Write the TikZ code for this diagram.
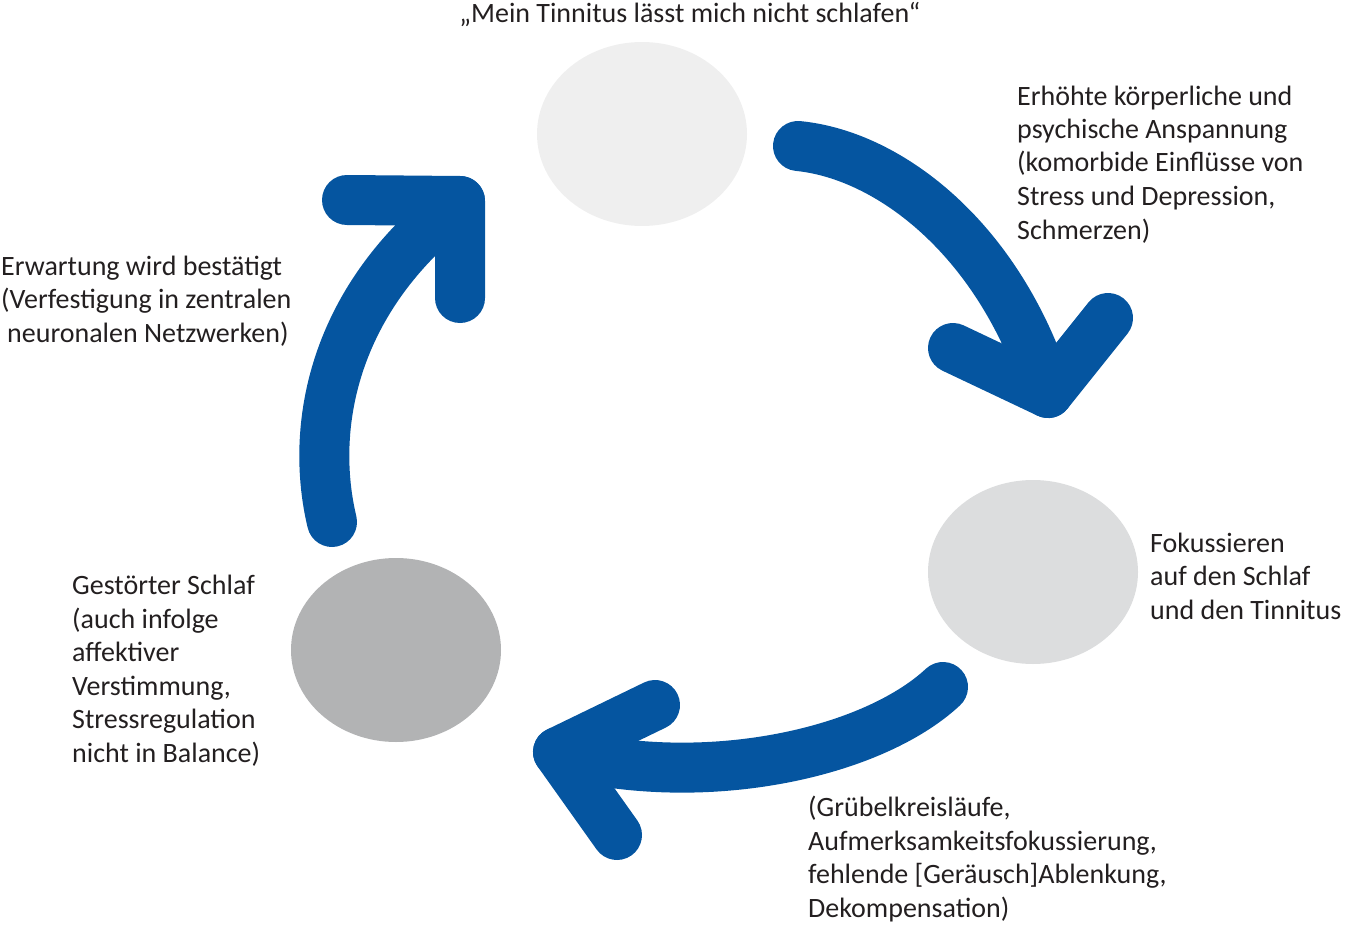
\documentclass[tikz,border=0pt]{standalone}
\usepackage{fontspec}
\setmainfont{Carlito}
\usetikzlibrary{shapes.geometric}
\definecolor{arrowblue}{RGB}{5,85,160}
\definecolor{txtgray}{RGB}{35,31,32}
\definecolor{circA}{RGB}{239,239,239}
\definecolor{circB}{RGB}{220,221,222}
\definecolor{circC}{RGB}{178,179,180}
\tikzset{
  blob/.style={ellipse, draw=none, inner sep=0pt, minimum width=210pt, minimum height=184pt},
  cyclearrow/.style={draw=arrowblue, line width=50pt, line cap=round, line join=round},
  lbl/.style={anchor=base west, align=left, inner sep=0pt, text=txtgray,
    font=\fontsize{28}{33.5}\selectfont},
}
\begin{document}
\begin{tikzpicture}[x=1pt, y=-1pt]
\useasboundingbox (0,0) rectangle (1346,928);
% circles
\node[blob, fill=circA] (top) at (642,134) {};
\node[blob, fill=circB] (right) at (1033,572) {};
\node[blob, fill=circC] (left) at (396,650) {};
% arrow 1
\coordinate (a1s) at (798,146);
\coordinate (a1v) at (1048,393);
\coordinate (a1l) at (953,348);
\coordinate (a1r) at (1108,318);
\draw[cyclearrow] (a1s) .. controls (890,155) and (1000,240) .. (a1v);
\draw[cyclearrow] (a1l) -- (a1v) -- (a1r);
% arrow 2
\coordinate (a2s) at (943,687);
\coordinate (a2v) at (558,752);
\coordinate (a2u) at (655,705);
\coordinate (a2d) at (617,835);
\draw[cyclearrow] (a2s) .. controls (870,755) and (700,790) .. (a2v);
\draw[cyclearrow] (a2u) -- (a2v) -- (a2d);
% arrow 3
\coordinate (a3s) at (332,522);
\coordinate (a3v) at (460,201);
\coordinate (a3l) at (347,200);
\coordinate (a3d) at (460,298);
\draw[cyclearrow] (a3s) .. controls (310,430) and (330,300) .. (a3v);
\draw[cyclearrow] (a3l) -- (a3v) -- (a3d);
% labels (base anchor = baseline of last line)
\node[lbl, anchor=base] (t1) at (690,23) {„Mein Tinnitus lässt mich nicht schlafen“};
\node[lbl] (t2) at (1017,239) {Erhöhte körperliche und\\psychische Anspannung\\(komorbide Einflüsse von\\Stress und Depression,\\Schmerzen)};
\node[lbl] (t3) at (1150,619) {Fokussieren\\auf den Schlaf\\und den Tinnitus};
\node[lbl] (t4) at (808,917) {(Grübelkreisläufe,\\Aufmerksamkeitsfokussierung,\\fehlende [Geräusch]Ablenkung,\\Dekompensation)};
\node[lbl] (t5) at (72,762) {Gestörter Schlaf\\(auch infolge\\affektiver\\Verstimmung,\\Stressregulation\\nicht in Balance)};
\node[lbl] (t6) at (1,342) {Erwartung wird bestätigt\\(Verfestigung in zentralen\\\hspace*{6pt}neuronalen Netzwerken)};
\end{tikzpicture}
\end{document}
